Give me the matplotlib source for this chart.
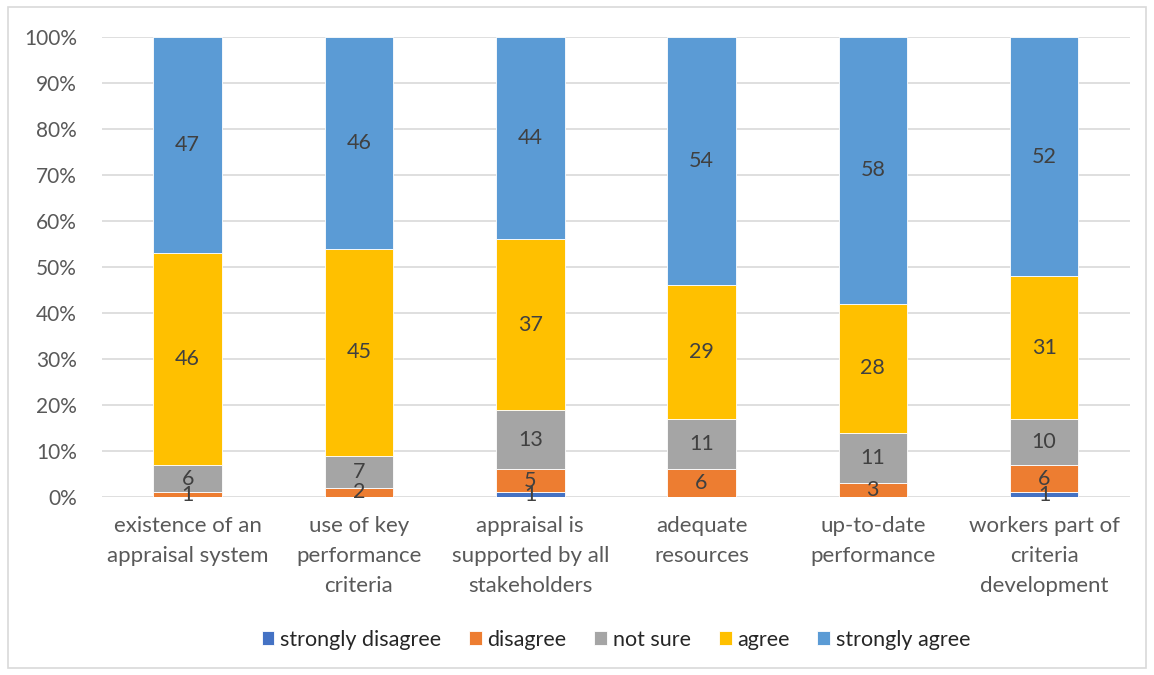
import matplotlib.pyplot as plt
from matplotlib.patches import Rectangle
import numpy as np

plt.rcParams["font.family"] = ["Lato", "DejaVu Sans"]

categories = [
    "existence of an\nappraisal system",
    "use of key\nperformance\ncriteria",
    "appraisal is\nsupported by all\nstakeholders",
    "adequate\nresources",
    "up-to-date\nperformance",
    "workers part of\ncriteria\ndevelopment",
]
series_names = ["strongly disagree", "disagree", "not sure", "agree", "strongly agree"]
strongly_disagree = [0, 0, 1, 0, 0, 1]
disagree = [1, 2, 5, 6, 3, 6]
not_sure = [6, 7, 13, 11, 11, 10]
agree = [46, 45, 37, 29, 28, 31]
strongly_agree = [47, 46, 44, 54, 58, 52]
colors = ["#4472C4", "#ED7D31", "#A5A5A5", "#FFC000", "#5B9BD5"]

series = [strongly_disagree, disagree, not_sure, agree, strongly_agree]

fig = plt.figure(figsize=(11.54, 6.75), dpi=100)
ax = fig.add_axes([0.0884, 0.2637, 0.8906, 0.6813])

x = np.arange(len(categories))
bottom = np.zeros(len(categories))
totals = np.sum(series, axis=0)
for name, vals, col in zip(series_names, series, colors):
    vals = np.array(vals, dtype=float)
    pct = vals / totals * 100
    bars = ax.bar(x, pct, 0.4, bottom=bottom, color=col, label=name,
                  edgecolor="white", linewidth=0.6, zorder=2)
    labels = [str(int(v)) if v > 0 else "" for v in vals]
    ax.bar_label(bars, labels=labels, label_type="center", fontsize=15.5, color="#404040")
    bottom += pct

ax.set_ylim(0, 100)
ax.set_xlim(-0.5, len(categories) - 0.5)
ax.set_yticks(range(0, 101, 10))
ax.set_yticklabels([f"{v}%" for v in range(0, 101, 10)])
ax.set_xticks(x)
ax.set_xticklabels(categories, linespacing=1.6, fontsize=16)
ax.tick_params(axis="both", length=0, colors="#595959")
ax.tick_params(axis="y", labelsize=15, pad=18)
ax.tick_params(axis="x", pad=14)
ax.grid(axis="y", color="#D9D9D9", linewidth=1.2, zorder=0)
for s in ax.spines.values():
    s.set_visible(False)

ax.legend(loc="center", bbox_to_anchor=(0.5, -0.31), ncol=5, frameon=False,
          fontsize=15.5, handlelength=0.6, handleheight=0.6, handletextpad=0.25,
          columnspacing=1.3, labelcolor="#262626")

fig.patches.append(Rectangle((0.007, 0.01), 0.986, 0.98, transform=fig.transFigure,
                             fill=False, edgecolor="#D9D9D9", linewidth=1.2))

fig.savefig("out.png", dpi=100)
